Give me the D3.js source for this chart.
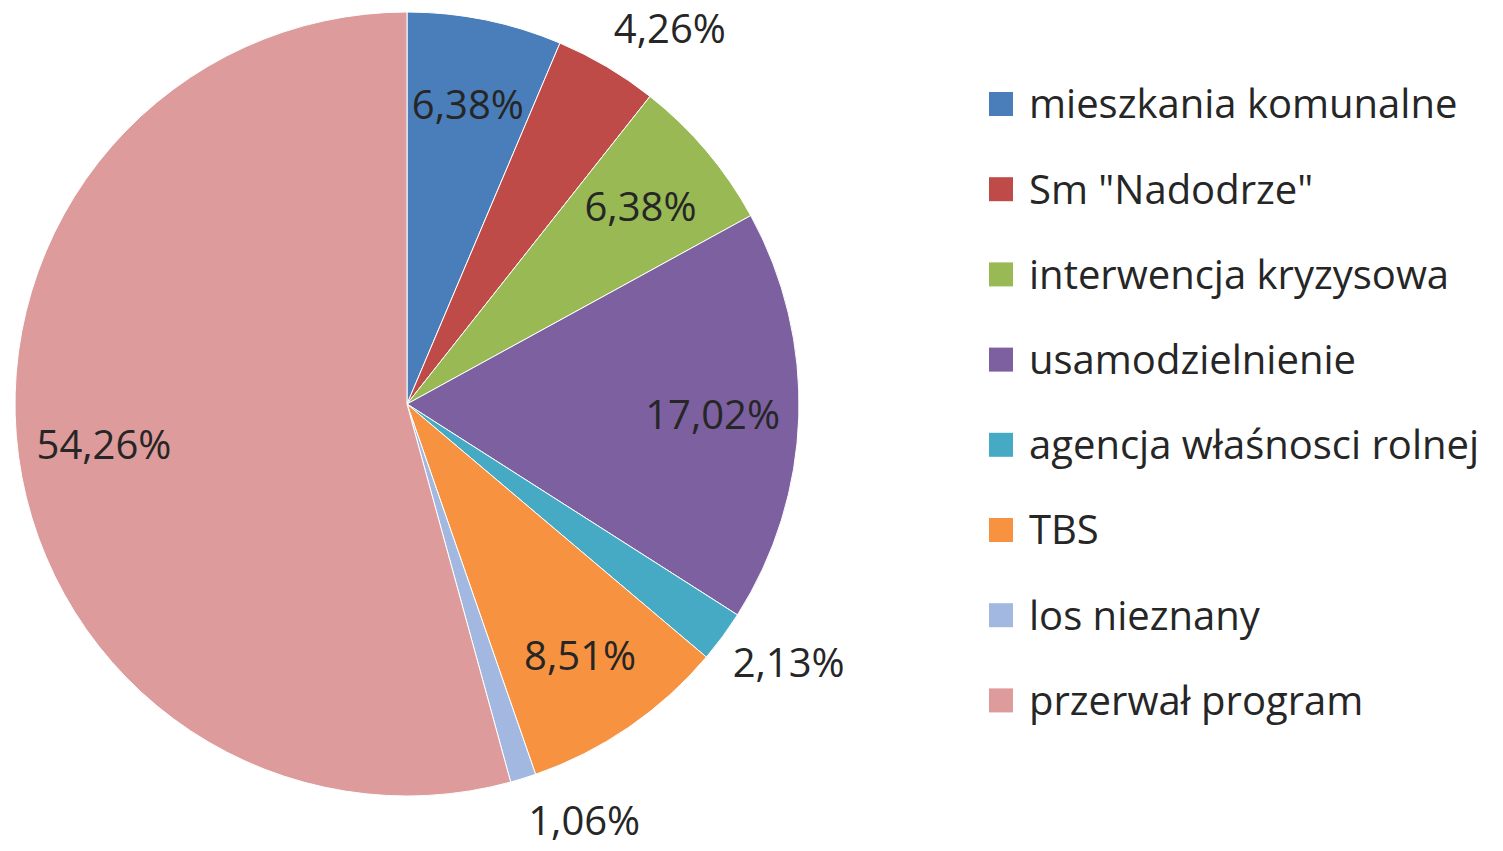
<!DOCTYPE html>
<html lang="pl">
<head>
<meta charset="UTF-8">
<title>Pie chart</title>
<style>
  body { margin: 0; background: #fff; }
  text { font-family: "Open Sans", "DejaVu Sans", sans-serif; fill: #262626; }
</style>
</head>
<body>
<svg id="chart" width="1503" height="851"></svg>
<script src="https://d3js.org/d3.v7.min.js"></script>
<script>
  // categories and values (percent)
  const categories = [
    "mieszkania komunalne",
    "Sm \"Nadodrze\"",
    "interwencja kryzysowa",
    "usamodzielnienie",
    "agencja właśnosci rolnej",
    "TBS",
    "los nieznany",
    "przerwał program"
  ];
  const values = [6.38, 4.26, 6.38, 17.02, 2.13, 8.51, 1.06, 54.26];
  const colors = ["#4a7ebb", "#be4b48", "#98b954", "#7d60a0", "#46aac5", "#f69240", "#a2b8e0", "#dd9b9b"];

  const svg = d3.select("#chart");
  const cx = 407, cy = 404, radius = 392;

  const pie = d3.pie().sort(null).value(d => d.value);
  const arcs = pie(categories.map((c, i) => ({ name: c, value: values[i], color: colors[i] })));

  const arc = d3.arc().innerRadius(0).outerRadius(radius);
  const inLabel = d3.arc().innerRadius(radius * 0.78).outerRadius(radius * 0.78);
  const edge = d3.arc().innerRadius(radius + 10).outerRadius(radius + 10);

  const g = svg.append("g").attr("transform", `translate(${cx},${cy})`);

  g.selectAll("path.slice")
    .data(arcs)
    .enter()
    .append("path")
    .attr("class", "slice")
    .attr("d", arc)
    .attr("fill", d => d.data.color)
    .attr("stroke", "#fff")
    .attr("stroke-width", 1);

  const fmt = v => v.toFixed(2).replace(".", ",") + "%";
  const halfW = 58, halfH = 34;

  // small slices get their label outside the pie, pushed away from the edge
  g.selectAll("text.lbl")
    .data(arcs)
    .enter()
    .append("text")
    .attr("class", "lbl")
    .attr("transform", d => {
      if (d.data.value >= 5) {
        const p = inLabel.centroid(d);
        return `translate(${p[0]},${p[1]})`;
      }
      const a = (d.startAngle + d.endAngle) / 2;
      const p = edge.centroid(d);
      const x = p[0] + halfW * Math.sign(Math.sin(a));
      const y = p[1] - halfH * Math.cos(a);
      return `translate(${x},${y})`;
    })
    .attr("text-anchor", "middle")
    .attr("dy", "0.36em")
    .style("font-size", "40px")
    .text(d => fmt(d.data.value));

  // legend
  const legend = svg.append("g").attr("transform", "translate(989,104)");
  const row = legend.selectAll("g")
    .data(categories)
    .enter()
    .append("g")
    .attr("transform", (d, i) => `translate(0,${i * 85.2})`);

  row.append("rect")
    .attr("x", 0).attr("y", -12)
    .attr("width", 24).attr("height", 24)
    .attr("fill", (d, i) => colors[i]);

  row.append("text")
    .attr("x", 40)
    .attr("dy", "0.36em")
    .style("font-size", "40px")
    .text(d => d);
</script>
</body>
</html>
